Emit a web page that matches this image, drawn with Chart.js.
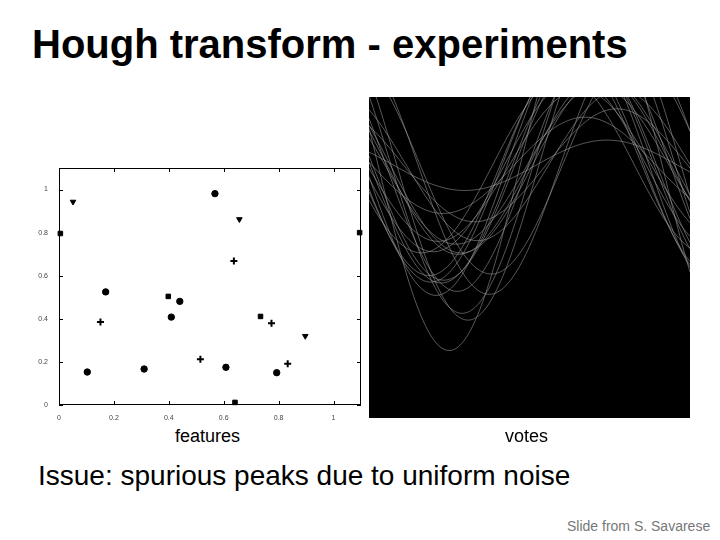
<!DOCTYPE html>
<html>
<head>
<meta charset="utf-8">
<script src="https://cdn.jsdelivr.net/npm/chart.js@4"></script>
<style>
  body { margin: 0; background: #fff; font-family: "Liberation Sans", Arial, sans-serif; }
  #slide { position: relative; width: 720px; height: 540px; overflow: hidden; }
  .t { position: absolute; white-space: nowrap; color: #000; }
  #featWrap { position: absolute; left: 28px; top: 160px; width: 342px; height: 260px; }
  #voteWrap { position: absolute; left: 369px; top: 97px; width: 321px; height: 321px; background: #000; }
</style>
</head>
<body>
<div id="slide">
  <div class="t" style="left:32px; top:22px; font-size:40px; font-weight:bold;">Hough transform - experiments</div>
  <div id="featWrap"><canvas id="feat"></canvas></div>
  <div id="voteWrap"><canvas id="votes"></canvas></div>
  <div class="t" style="left:175px; top:426px; font-size:18px;">features</div>
  <div class="t" style="left:505px; top:426px; font-size:18px;">votes</div>
  <div class="t" style="left:38px; top:460px; font-size:28px;">Issue: spurious peaks due to uniform noise</div>
  <div class="t" style="left:567px; top:518px; font-size:14px; color:#777;">Slide from S. Savarese</div>
</div>
<script>
// feature points (noise)
const featX = [0.051, 0.005, 1.095, 0.568, 0.657, 0.637, 0.170, 0.398, 0.440, 0.151, 0.409,
               0.734, 0.774, 0.897, 0.103, 0.310, 0.515, 0.608, 0.793, 0.833, 0.641];
const featY = [0.943, 0.796, 0.800, 0.981, 0.862, 0.668, 0.525, 0.504, 0.481, 0.385, 0.408,
               0.411, 0.379, 0.320, 0.153, 0.167, 0.212, 0.175, 0.150, 0.192, 0.012];
const featMarker = ["tri", "rect", "rect", "circle", "tri", "cross", "circle", "rect", "circle", "cross", "circle",
                    "rect", "cross", "tri", "circle", "circle", "cross", "circle", "circle", "cross", "rect"];
const axisTicks = [0, 0.2, 0.4, 0.6, 0.8, 1];

// vote space: theta across, rho down (window of the accumulator that is shown)
const thetaRange = [2.0, 9.1];
const rhoRange = [-1.85, 0.5];
const thetaSteps = 160;

const styleMap = { tri: "triangle", rect: "rect", circle: "circle", cross: "cross" };

// inward ticks + box, like the matlab axes
const boxTicks = {
  id: "boxTicks",
  afterDraw(chart) {
    const { ctx, chartArea: a, scales } = chart;
    ctx.save();
    ctx.strokeStyle = "#000";
    ctx.lineWidth = 1;
    ctx.strokeRect(a.left + 0.5, a.top + 0.5, a.right - a.left - 1, a.bottom - a.top - 1);
    axisTicks.forEach(v => {
      const px = Math.round(scales.x.getPixelForValue(v)) + 0.5;
      const py = Math.round(scales.y.getPixelForValue(v)) + 0.5;
      ctx.beginPath();
      ctx.moveTo(px, a.bottom); ctx.lineTo(px, a.bottom - 4);
      ctx.moveTo(px, a.top); ctx.lineTo(px, a.top + 4);
      ctx.moveTo(a.left, py); ctx.lineTo(a.left + 4, py);
      ctx.moveTo(a.right, py); ctx.lineTo(a.right - 4, py);
      ctx.stroke();
    });
    ctx.restore();
  }
};

new Chart(document.getElementById("feat"), {
  type: "scatter",
  data: {
    datasets: [{
      data: featX.map((x, i) => ({ x: x, y: featY[i] })),
      pointStyle: featMarker.map(m => styleMap[m]),
      rotation: featMarker.map(m => m === "tri" ? 180 : 0),
      pointRadius: featMarker.map(m => m === "cross" ? 3.5 : 3.2),
      borderWidth: featMarker.map(m => m === "cross" ? 2 : 1),
      backgroundColor: "#000",
      borderColor: "#000",
      clip: 4
    }]
  },
  options: {
    responsive: true,
    maintainAspectRatio: false,
    animation: false,
    layout: { padding: { top: 8, right: 9 } },
    plugins: { legend: { display: false }, tooltip: { enabled: false } },
    scales: {
      x: {
        type: "linear", min: 0, max: 1.1,
        grid: { display: false }, border: { display: false },
        afterFit: s => { s.height = 15; },
        afterBuildTicks: s => { s.ticks = axisTicks.map(v => ({ value: v })); },
        ticks: { padding: 1, font: { size: 7, family: "Liberation Sans" }, color: "#444", maxRotation: 0,
                 callback: v => String(v) }
      },
      y: {
        type: "linear", min: 0, max: 1.1,
        grid: { display: false }, border: { display: false },
        afterFit: s => { s.width = 31; },
        afterBuildTicks: s => { s.ticks = axisTicks.map(v => ({ value: v })); },
        ticks: { padding: 3, font: { size: 7, family: "Liberation Sans" }, color: "#444",
                 callback: v => String(v) }
      }
    }
  },
  plugins: [boxTicks]
});

// each feature votes along rho = x cos(theta) + y sin(theta)
const thetas = [];
for (let i = 0; i <= thetaSteps; i++) {
  thetas.push(thetaRange[0] + (thetaRange[1] - thetaRange[0]) * i / thetaSteps);
}
const voteSets = featX.map((x, i) => ({
  data: thetas.map(t => ({ x: t, y: x * Math.cos(t) + featY[i] * Math.sin(t) })),
  showLine: true,
  borderColor: "rgba(160,160,160,0.55)",
  borderWidth: 1,
  pointRadius: 0,
  tension: 0
}));

new Chart(document.getElementById("votes"), {
  type: "scatter",
  data: { datasets: voteSets },
  options: {
    responsive: true,
    maintainAspectRatio: false,
    animation: false,
    layout: { padding: 0 },
    plugins: { legend: { display: false }, tooltip: { enabled: false } },
    scales: {
      x: { type: "linear", min: thetaRange[0], max: thetaRange[1], display: false },
      y: { type: "linear", min: rhoRange[0], max: rhoRange[1], display: false }
    }
  }
});
</script>
</body>
</html>
